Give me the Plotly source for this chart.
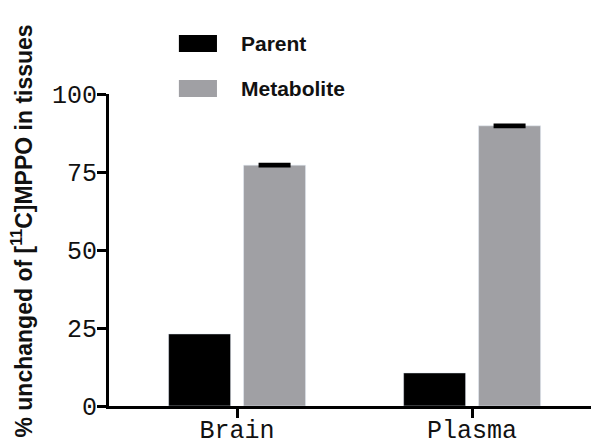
import plotly.graph_objects as go

tissues = ["Brain", "Plasma"]
parent = [23.1, 10.6]
metabolite = [77.2, 89.8]
metabolite_err = [0.3, 0.3]
y_ticks = [0, 25, 50, 75, 100]

black = "#000000"
grey = "#a0a0a4"

fig = go.Figure()
fig.add_trace(go.Bar(
    x=tissues, y=parent, name="Parent", marker_color=black,
    showlegend=False,
))
fig.add_trace(go.Bar(
    x=tissues, y=metabolite, name="Metabolite", marker_color=grey,
    error_y=dict(type="data", array=metabolite_err, color=black, thickness=3, width=16),
    showlegend=False,
))

# hand-drawn legend (wide swatches like the original)
legend_items = [("Parent", black, 1.189, 1.135), ("Metabolite", grey, 1.045, 0.990)]
for label, col, y1, y0 in legend_items:
    fig.add_shape(type="rect", xref="paper", yref="paper",
                  x0=0.145, x1=0.224, y0=y0, y1=y1,
                  fillcolor=col, line=dict(width=0))
    fig.add_annotation(xref="paper", yref="paper", x=0.27, y=(y0 + y1) / 2,
                       text="<b>%s</b>" % label, showarrow=False,
                       xanchor="left", yanchor="middle",
                       font=dict(family="Liberation Sans, Arial", size=21, color="#111111"))

fig.add_annotation(xref="paper", yref="paper", x=-0.18, y=0.56,
                   text="<b>% unchanged of [<sup>11</sup>C]MPPO in tissues</b>",
                   textangle=-90, showarrow=False, xanchor="center", yanchor="middle",
                   font=dict(family="Liberation Sans, Arial", size=23, color="#111111"))

# page body adds an 8px margin, so the figure is a bit smaller than the window
fig.update_layout(
    width=592, height=439,
    margin=dict(l=101, r=9, t=86, b=41),
    paper_bgcolor="white", plot_bgcolor="white",
    barmode="group", bargap=0.362, bargroupgap=0.173,
    font=dict(family="Liberation Mono, Courier New, monospace", size=25, color="#111111"),
)
fig.update_xaxes(
    range=[-0.545, 1.506], showline=True, linewidth=3, linecolor=black,
    ticks="outside", ticklen=9, tickwidth=3, tickcolor=black,
    showgrid=False, zeroline=False, automargin=False, ticklabelstandoff=-10,
)
fig.update_yaxes(
    range=[0, 100], tickvals=y_ticks, showline=True, linewidth=3, linecolor=black,
    ticks="outside", ticklen=9, tickwidth=3, tickcolor=black,
    showgrid=False, zeroline=False, automargin=False, ticklabelstandoff=-5,
)

fig.write_html("out.html")
